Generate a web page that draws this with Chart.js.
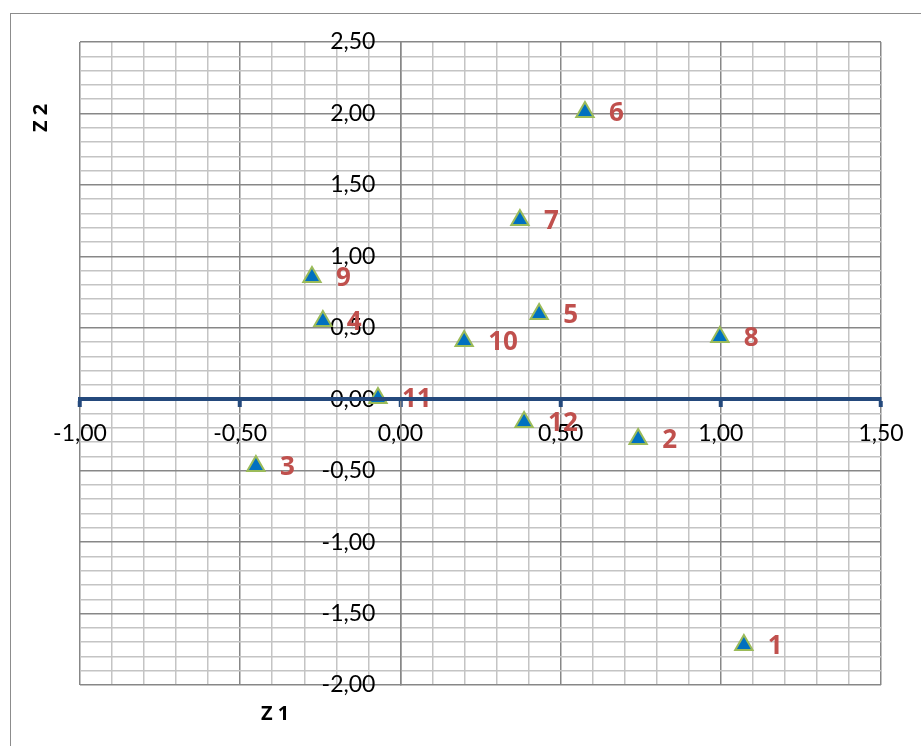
<!DOCTYPE html>
<html>
<head>
<meta charset="utf-8">
<script src="https://cdn.jsdelivr.net/npm/chart.js@4.4.1/dist/chart.umd.min.js"></script>
<style>
  body { margin: 0; background: #fff; }
  canvas { display: block; }
</style>
</head>
<body>
<canvas id="scatter" width="921" height="746"></canvas>
<script>
// Observation numbers and their coordinates (Z1, Z2)
const pointIds = ['1', '2', '3', '4', '5', '6', '7', '8', '9', '10', '11', '12'];
const z1 = [1.072, 0.742, -0.451, -0.242, 0.433, 0.576, 0.373, 0.997, -0.276, 0.199, -0.070, 0.386];
const z2 = [-1.72, -0.279, -0.467, 0.547, 0.596, 2.01, 1.254, 0.435, 0.855, 0.408, 0.008, -0.16];

// Labelled ticks (the grid itself runs every 0.1)
const xMajorTicks = [-1, -0.5, 0, 0.5, 1, 1.5];
const yMajorTicks = [-2, -1.5, -1, -0.5, 0, 0.5, 1, 1.5, 2, 2.5];

const isMajor = (list, v) => list.some(t => Math.abs(t - v) < 1e-6);
const fmt = v => v.toFixed(2).replace('.', ',');

const FONT = 'Lato, "Open Sans", sans-serif';
const BOLD_FONT = '"Open Sans", "Liberation Sans", sans-serif';
const AXIS_BLUE = '#24497C';
const MAJOR_GRID = '#878787';
const MINOR_GRID = '#C4C4C4';

// y tick labels sit left of the vertical axis (x = 0), like Excel does
const yTickLabels = {
    id: 'yTickLabels',
    beforeDatasetsDraw(chart) {
        const { ctx, scales: { x, y } } = chart;
        const x0 = x.getPixelForValue(0);
        ctx.save();
        ctx.font = '23px ' + FONT;
        ctx.fillStyle = '#000';
        ctx.textAlign = 'right';
        ctx.textBaseline = 'middle';
        yMajorTicks.forEach(v => {
            ctx.fillText(fmt(v), x0 - 25, y.getPixelForValue(v));
        });
        ctx.restore();
    }
};

// point numbers beside each marker
const pointLabels = {
    id: 'pointLabels',
    afterDatasetsDraw(chart) {
        const ctx = chart.ctx;
        const meta = chart.getDatasetMeta(0);
        ctx.save();
        ctx.font = 'bold 26px ' + BOLD_FONT;
        ctx.fillStyle = '#C0504D';
        ctx.textAlign = 'left';
        ctx.textBaseline = 'middle';
        meta.data.forEach((pt, i) => {
            ctx.fillText(pointIds[i], pt.x + 24, pt.y + 2);
        });
        ctx.restore();
    }
};

// outer frame and axis titles
const frameAndTitles = {
    id: 'frameAndTitles',
    beforeDraw(chart) {
        const ctx = chart.ctx;
        ctx.save();
        ctx.strokeStyle = '#8C8C8C';
        ctx.lineWidth = 1;
        ctx.strokeRect(10.5, 13.5, 2000, 2000);
        ctx.restore();
    },
    afterDraw(chart) {
        const ctx = chart.ctx;
        ctx.save();
        ctx.font = 'bold 20px ' + BOLD_FONT;
        ctx.fillStyle = '#000';
        ctx.textAlign = 'center';
        ctx.textBaseline = 'middle';
        ctx.fillText('Z 1', 275, 714);
        ctx.translate(41, 118);
        ctx.rotate(-Math.PI / 2);
        ctx.fillText('Z 2', 0, 0);
        ctx.restore();
    }
};

new Chart(document.getElementById('scatter'), {
    type: 'scatter',
    data: {
        datasets: [{
            data: z1.map((x, i) => ({ x: x, y: z2[i] })),
            pointStyle: 'triangle',
            pointRadius: 10,
            pointHoverRadius: 10,
            backgroundColor: '#0070C0',
            borderColor: '#9BBB59',
            borderWidth: 2
        }]
    },
    options: {
        responsive: false,
        animation: false,
        layout: { padding: { left: 80, right: 40, top: 42, bottom: 61 } },
        plugins: {
            legend: { display: false },
            tooltip: { enabled: false }
        },
        scales: {
            x: {
                type: 'linear',
                min: -1,
                max: 1.5,
                position: { y: 0 },
                afterFit: s => { s.height = 0; },
                border: { color: AXIS_BLUE, width: 4, z: 1 },
                grid: {
                    color: c => isMajor(xMajorTicks, c.tick.value) ? MAJOR_GRID : MINOR_GRID,
                    lineWidth: 1.5,
                    drawTicks: true,
                    tickLength: 6,
                    tickWidth: 4,
                    tickColor: c => isMajor(xMajorTicks, c.tick.value) ? AXIS_BLUE : 'rgba(0,0,0,0)'
                },
                ticks: {
                    stepSize: 0.1,
                    autoSkip: false,
                    maxRotation: 0,
                    padding: 15,
                    color: '#000',
                    font: { family: FONT, size: 23 },
                    callback: v => isMajor(xMajorTicks, v) ? fmt(v) : ''
                }
            },
            y: {
                type: 'linear',
                min: -2,
                max: 2.5,
                position: { x: 0 },
                afterFit: s => { s.width = 0; },
                border: { color: MAJOR_GRID, width: 1.5 },
                grid: {
                    color: c => isMajor(yMajorTicks, c.tick.value) ? MAJOR_GRID : MINOR_GRID,
                    lineWidth: 1.5,
                    drawTicks: false
                },
                ticks: {
                    stepSize: 0.1,
                    autoSkip: false,
                    display: false
                }
            }
        }
    },
    plugins: [yTickLabels, pointLabels, frameAndTitles]
});
</script>
</body>
</html>
